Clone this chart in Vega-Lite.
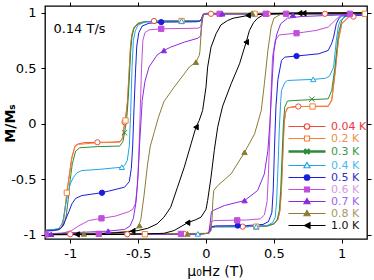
{
  "$schema": "https://vega.github.io/schema/vega-lite/v6.json",
  "width": 322,
  "height": 233,
  "autosize": {"type": "none"},
  "padding": {"left": 45, "top": 6, "right": 7, "bottom": 41},
  "config": {
    "view": {"stroke": "black", "strokeWidth": 1.3},
    "font": "DejaVu Sans",
    "axis": {"labelFont": "DejaVu Sans", "labelFontSize": 13, "labelColor": "black", "tickColor": "black", "tickSize": 4, "tickWidth": 1, "domain": false, "grid": false, "titleFont": "DejaVu Sans", "titleColor": "black"}
  },
  "resolve": {"axis": {"x": "independent", "y": "independent"}},
  "layer": [
    {
      "data": {
        "values": "t,b,h,m\n0.04 K,d,1.19,0.99\n0.04 K,d,0.6,0.99\n0.04 K,d,0.2,0.99\n0.04 K,d,0,0.99\n0.04 K,d,-0.02,0.985\n0.04 K,d,-0.03,0.955\n0.04 K,d,-0.04,0.93\n0.04 K,d,-0.07,0.925\n0.04 K,d,-0.3,0.925\n0.04 K,d,-0.45,0.92\n0.04 K,d,-0.5,0.905\n0.04 K,d,-0.53,0.87\n0.04 K,d,-0.545,0.81\n0.04 K,d,-0.555,0.72\n0.04 K,d,-0.565,0.5\n0.04 K,d,-0.578,0.21\n0.04 K,d,-0.59,0.08\n0.04 K,d,-0.6,0.015\n0.04 K,d,-0.613,-0.12\n0.04 K,d,-0.63,-0.16\n0.04 K,d,-0.7,-0.165\n0.04 K,d,-0.8,-0.166\n0.04 K,d,-0.9,-0.17\n0.04 K,d,-0.94,-0.18\n0.04 K,d,-0.963,-0.195\n0.04 K,d,-0.988,-0.3\n0.04 K,d,-1.013,-0.51\n0.04 K,d,-1.025,-0.62\n0.04 K,d,-1.037,-0.75\n0.04 K,d,-1.05,-0.87\n0.04 K,d,-1.062,-0.93\n0.04 K,d,-1.087,-0.955\n0.04 K,d,-1.19,-0.96\n0.04 K,u,-1.19,-0.995\n0.04 K,u,-0.6,-0.995\n0.04 K,u,-0.05,-0.99\n0.04 K,u,0.02,-0.985\n0.04 K,u,0.03,-0.96\n0.04 K,u,0.04,-0.93\n0.04 K,u,0.07,-0.925\n0.04 K,u,0.3,-0.925\n0.04 K,u,0.45,-0.92\n0.04 K,u,0.5,-0.9\n0.04 K,u,0.53,-0.86\n0.04 K,u,0.545,-0.78\n0.04 K,u,0.555,-0.6\n0.04 K,u,0.565,-0.3\n0.04 K,u,0.575,0\n0.04 K,u,0.585,0.1\n0.04 K,u,0.6,0.144\n0.04 K,u,0.65,0.155\n0.04 K,u,0.9,0.158\n0.04 K,u,0.926,0.21\n0.04 K,u,0.95,0.45\n0.04 K,u,0.975,0.75\n0.04 K,u,1,0.9\n0.04 K,u,1.05,0.96\n0.04 K,u,1.1,0.975\n0.04 K,u,1.19,0.977\n0.2 K,d,1.19,0.99\n0.2 K,d,0,0.99\n0.2 K,d,-0.02,0.985\n0.2 K,d,-0.03,0.955\n0.2 K,d,-0.04,0.93\n0.2 K,d,-0.07,0.925\n0.2 K,d,-0.3,0.925\n0.2 K,d,-0.45,0.92\n0.2 K,d,-0.5,0.905\n0.2 K,d,-0.53,0.87\n0.2 K,d,-0.545,0.8\n0.2 K,d,-0.556,0.7\n0.2 K,d,-0.566,0.47\n0.2 K,d,-0.579,0.18\n0.2 K,d,-0.592,0.05\n0.2 K,d,-0.602,-0.02\n0.2 K,d,-0.615,-0.13\n0.2 K,d,-0.635,-0.165\n0.2 K,d,-0.8,-0.17\n0.2 K,d,-0.94,-0.185\n0.2 K,d,-0.965,-0.2\n0.2 K,d,-0.99,-0.32\n0.2 K,d,-1.013,-0.52\n0.2 K,d,-1.025,-0.62\n0.2 K,d,-1.038,-0.76\n0.2 K,d,-1.05,-0.87\n0.2 K,d,-1.065,-0.93\n0.2 K,d,-1.09,-0.952\n0.2 K,d,-1.19,-0.958\n0.2 K,u,-1.19,-0.995\n0.2 K,u,-0.05,-0.99\n0.2 K,u,0.02,-0.985\n0.2 K,u,0.03,-0.96\n0.2 K,u,0.04,-0.93\n0.2 K,u,0.07,-0.925\n0.2 K,u,0.3,-0.925\n0.2 K,u,0.45,-0.92\n0.2 K,u,0.5,-0.9\n0.2 K,u,0.53,-0.86\n0.2 K,u,0.547,-0.76\n0.2 K,u,0.557,-0.55\n0.2 K,u,0.567,-0.25\n0.2 K,u,0.577,0.02\n0.2 K,u,0.588,0.11\n0.2 K,u,0.605,0.145\n0.2 K,u,0.7,0.156\n0.2 K,u,0.9,0.158\n0.2 K,u,0.927,0.22\n0.2 K,u,0.952,0.47\n0.2 K,u,0.976,0.76\n0.2 K,u,1,0.9\n0.2 K,u,1.05,0.96\n0.2 K,u,1.1,0.975\n0.2 K,u,1.19,0.977\n0.3 K,d,1.19,0.99\n0.3 K,d,0,0.99\n0.3 K,d,-0.02,0.985\n0.3 K,d,-0.03,0.955\n0.3 K,d,-0.04,0.93\n0.3 K,d,-0.07,0.925\n0.3 K,d,-0.3,0.925\n0.3 K,d,-0.45,0.918\n0.3 K,d,-0.5,0.9\n0.3 K,d,-0.53,0.86\n0.3 K,d,-0.545,0.79\n0.3 K,d,-0.555,0.65\n0.3 K,d,-0.567,0.35\n0.3 K,d,-0.58,0.1\n0.3 K,d,-0.592,-0.02\n0.3 K,d,-0.6,-0.08\n0.3 K,d,-0.612,-0.16\n0.3 K,d,-0.635,-0.2\n0.3 K,d,-0.8,-0.205\n0.3 K,d,-0.93,-0.215\n0.3 K,d,-0.96,-0.245\n0.3 K,d,-0.985,-0.36\n0.3 K,d,-1,-0.5\n0.3 K,d,-1.015,-0.68\n0.3 K,d,-1.03,-0.83\n0.3 K,d,-1.048,-0.91\n0.3 K,d,-1.075,-0.945\n0.3 K,d,-1.19,-0.958\n0.3 K,u,-1.19,-0.995\n0.3 K,u,-0.05,-0.99\n0.3 K,u,0.02,-0.985\n0.3 K,u,0.03,-0.96\n0.3 K,u,0.04,-0.93\n0.3 K,u,0.07,-0.925\n0.3 K,u,0.3,-0.925\n0.3 K,u,0.45,-0.918\n0.3 K,u,0.5,-0.9\n0.3 K,u,0.525,-0.86\n0.3 K,u,0.54,-0.78\n0.3 K,u,0.55,-0.6\n0.3 K,u,0.56,-0.3\n0.3 K,u,0.57,0\n0.3 K,u,0.58,0.15\n0.3 K,u,0.6,0.205\n0.3 K,u,0.65,0.21\n0.3 K,u,0.9,0.225\n0.3 K,u,0.926,0.3\n0.3 K,u,0.95,0.51\n0.3 K,u,0.975,0.81\n0.3 K,u,1,0.93\n0.3 K,u,1.02,0.965\n0.3 K,u,1.1,0.975\n0.3 K,u,1.19,0.977\n0.4 K,d,1.19,0.99\n0.4 K,d,0,0.99\n0.4 K,d,-0.02,0.985\n0.4 K,d,-0.03,0.955\n0.4 K,d,-0.04,0.93\n0.4 K,d,-0.07,0.925\n0.4 K,d,-0.3,0.925\n0.4 K,d,-0.45,0.915\n0.4 K,d,-0.5,0.89\n0.4 K,d,-0.52,0.84\n0.4 K,d,-0.535,0.75\n0.4 K,d,-0.545,0.5\n0.4 K,d,-0.555,0.1\n0.4 K,d,-0.565,-0.2\n0.4 K,d,-0.58,-0.33\n0.4 K,d,-0.6,-0.375\n0.4 K,d,-0.62,-0.39\n0.4 K,d,-0.79,-0.41\n0.4 K,d,-0.914,-0.42\n0.4 K,d,-0.95,-0.44\n0.4 K,d,-0.976,-0.48\n0.4 K,d,-1,-0.54\n0.4 K,d,-1.02,-0.64\n0.4 K,d,-1.037,-0.75\n0.4 K,d,-1.05,-0.85\n0.4 K,d,-1.062,-0.9\n0.4 K,d,-1.087,-0.945\n0.4 K,d,-1.19,-0.96\n0.4 K,u,-1.19,-0.995\n0.4 K,u,-0.05,-0.99\n0.4 K,u,0.02,-0.985\n0.4 K,u,0.03,-0.96\n0.4 K,u,0.04,-0.93\n0.4 K,u,0.07,-0.925\n0.4 K,u,0.3,-0.925\n0.4 K,u,0.45,-0.915\n0.4 K,u,0.49,-0.89\n0.4 K,u,0.51,-0.84\n0.4 K,u,0.52,-0.7\n0.4 K,u,0.53,-0.4\n0.4 K,u,0.54,-0.05\n0.4 K,u,0.55,0.2\n0.4 K,u,0.556,0.3\n0.4 K,u,0.58,0.37\n0.4 K,u,0.6,0.39\n0.4 K,u,0.79,0.4\n0.4 K,u,0.88,0.41\n0.4 K,u,0.91,0.43\n0.4 K,u,0.94,0.51\n0.4 K,u,0.96,0.75\n0.4 K,u,0.975,0.88\n0.4 K,u,0.99,0.93\n0.4 K,u,1.03,0.965\n0.4 K,u,1.1,0.975\n0.4 K,u,1.19,0.977\n0.5 K,d,1.19,0.99\n0.5 K,d,0,0.99\n0.5 K,d,-0.02,0.985\n0.5 K,d,-0.03,0.955\n0.5 K,d,-0.04,0.925\n0.5 K,d,-0.07,0.918\n0.5 K,d,-0.3,0.915\n0.5 K,d,-0.42,0.905\n0.5 K,d,-0.47,0.88\n0.5 K,d,-0.495,0.82\n0.5 K,d,-0.51,0.7\n0.5 K,d,-0.52,0.45\n0.5 K,d,-0.53,0.15\n0.5 K,d,-0.54,-0.2\n0.5 K,d,-0.55,-0.4\n0.5 K,d,-0.565,-0.52\n0.5 K,d,-0.6,-0.57\n0.5 K,d,-0.7,-0.6\n0.5 K,d,-0.77,-0.62\n0.5 K,d,-0.914,-0.645\n0.5 K,d,-0.96,-0.67\n0.5 K,d,-0.988,-0.72\n0.5 K,d,-1.01,-0.79\n0.5 K,d,-1.037,-0.87\n0.5 K,d,-1.055,-0.92\n0.5 K,d,-1.074,-0.946\n0.5 K,d,-1.12,-0.96\n0.5 K,d,-1.19,-0.965\n0.5 K,u,-1.19,-0.995\n0.5 K,u,-0.05,-0.99\n0.5 K,u,0.02,-0.985\n0.5 K,u,0.03,-0.96\n0.5 K,u,0.04,-0.925\n0.5 K,u,0.07,-0.918\n0.5 K,u,0.3,-0.915\n0.5 K,u,0.42,-0.905\n0.5 K,u,0.46,-0.88\n0.5 K,u,0.485,-0.8\n0.5 K,u,0.495,-0.6\n0.5 K,u,0.505,-0.2\n0.5 K,u,0.515,0.15\n0.5 K,u,0.53,0.4\n0.5 K,u,0.556,0.57\n0.5 K,u,0.58,0.6\n0.5 K,u,0.667,0.61\n0.5 K,u,0.83,0.63\n0.5 K,u,0.9,0.66\n0.5 K,u,0.925,0.72\n0.5 K,u,0.94,0.78\n0.5 K,u,0.96,0.9\n0.5 K,u,0.98,0.95\n0.5 K,u,1,0.97\n0.5 K,u,1.1,0.977\n0.5 K,u,1.19,0.98\n0.6 K,d,1.19,0.995\n0.6 K,d,0,0.99\n0.6 K,d,-0.02,0.985\n0.6 K,d,-0.03,0.93\n0.6 K,d,-0.04,0.87\n0.6 K,d,-0.06,0.86\n0.6 K,d,-0.33,0.855\n0.6 K,d,-0.42,0.845\n0.6 K,d,-0.45,0.82\n0.6 K,d,-0.465,0.75\n0.6 K,d,-0.475,0.5\n0.6 K,d,-0.485,0.1\n0.6 K,d,-0.495,-0.3\n0.6 K,d,-0.505,-0.55\n0.6 K,d,-0.52,-0.72\n0.6 K,d,-0.54,-0.77\n0.6 K,d,-0.568,-0.79\n0.6 K,d,-0.667,-0.83\n0.6 K,d,-0.77,-0.85\n0.6 K,d,-0.864,-0.87\n0.6 K,d,-0.94,-0.92\n0.6 K,d,-0.99,-0.96\n0.6 K,d,-1.06,-0.985\n0.6 K,d,-1.19,-0.995\n0.6 K,u,-1.19,-0.995\n0.6 K,u,-0.05,-0.99\n0.6 K,u,0.02,-0.985\n0.6 K,u,0.03,-0.93\n0.6 K,u,0.04,-0.88\n0.6 K,u,0.06,-0.87\n0.6 K,u,0.3,-0.865\n0.6 K,u,0.4,-0.855\n0.6 K,u,0.43,-0.82\n0.6 K,u,0.45,-0.7\n0.6 K,u,0.46,-0.45\n0.6 K,u,0.47,-0.1\n0.6 K,u,0.48,0.3\n0.6 K,u,0.49,0.6\n0.6 K,u,0.51,0.75\n0.6 K,u,0.54,0.8\n0.6 K,u,0.667,0.815\n0.6 K,u,0.81,0.84\n0.6 K,u,0.9,0.87\n0.6 K,u,0.95,0.93\n0.6 K,u,0.99,0.975\n0.6 K,u,1.06,0.99\n0.6 K,u,1.19,0.995\n0.7 K,d,1.19,0.995\n0.7 K,d,0,0.99\n0.7 K,d,-0.02,0.985\n0.7 K,d,-0.03,0.9\n0.7 K,d,-0.04,0.79\n0.7 K,d,-0.06,0.77\n0.7 K,d,-0.16,0.735\n0.7 K,d,-0.26,0.69\n0.7 K,d,-0.31,0.66\n0.7 K,d,-0.36,0.62\n0.7 K,d,-0.42,0.51\n0.7 K,d,-0.45,0.38\n0.7 K,d,-0.47,0.21\n0.7 K,d,-0.48,0\n0.7 K,d,-0.49,-0.2\n0.7 K,d,-0.5,-0.45\n0.7 K,d,-0.515,-0.7\n0.7 K,d,-0.535,-0.85\n0.7 K,d,-0.56,-0.92\n0.7 K,d,-0.6,-0.95\n0.7 K,d,-0.72,-0.965\n0.7 K,d,-0.9,-0.975\n0.7 K,d,-1.19,-0.99\n0.7 K,u,-1.19,-0.995\n0.7 K,u,-0.6,-0.99\n0.7 K,u,-0.05,-0.99\n0.7 K,u,0.02,-0.985\n0.7 K,u,0.03,-0.9\n0.7 K,u,0.04,-0.79\n0.7 K,u,0.06,-0.775\n0.7 K,u,0.136,-0.735\n0.7 K,u,0.284,-0.69\n0.7 K,u,0.38,-0.6\n0.7 K,u,0.43,-0.45\n0.7 K,u,0.456,-0.24\n0.7 K,u,0.47,0\n0.7 K,u,0.48,0.21\n0.7 K,u,0.49,0.45\n0.7 K,u,0.5,0.65\n0.7 K,u,0.52,0.8\n0.7 K,u,0.55,0.9\n0.7 K,u,0.6,0.95\n0.7 K,u,0.7,0.965\n0.7 K,u,0.9,0.975\n0.7 K,u,1.19,0.99\n0.8 K,d,1.19,0.998\n0.8 K,d,0,0.995\n0.8 K,d,-0.013,0.99\n0.8 K,d,-0.03,0.95\n0.8 K,d,-0.037,0.8\n0.8 K,d,-0.045,0.65\n0.8 K,d,-0.05,0.615\n0.8 K,d,-0.074,0.555\n0.8 K,d,-0.124,0.51\n0.8 K,d,-0.16,0.45\n0.8 K,d,-0.235,0.33\n0.8 K,d,-0.31,0.2\n0.8 K,d,-0.35,0.06\n0.8 K,d,-0.38,-0.07\n0.8 K,d,-0.41,-0.2\n0.8 K,d,-0.43,-0.36\n0.8 K,d,-0.456,-0.64\n0.8 K,d,-0.48,-0.86\n0.8 K,d,-0.5,-0.93\n0.8 K,d,-0.55,-0.965\n0.8 K,d,-0.7,-0.98\n0.8 K,d,-1.19,-0.995\n0.8 K,u,-1.19,-0.995\n0.8 K,u,-0.6,-0.99\n0.8 K,u,0.02,-0.985\n0.8 K,u,0.037,-0.96\n0.8 K,u,0.045,-0.85\n0.8 K,u,0.05,-0.7\n0.8 K,u,0.057,-0.6\n0.8 K,u,0.086,-0.556\n0.8 K,u,0.185,-0.45\n0.8 K,u,0.284,-0.256\n0.8 K,u,0.358,-0.09\n0.8 K,u,0.407,0.12\n0.8 K,u,0.43,0.36\n0.8 K,u,0.456,0.66\n0.8 K,u,0.48,0.87\n0.8 K,u,0.5,0.95\n0.8 K,u,0.55,0.985\n0.8 K,u,1.19,0.995\n1.0 K,d,1.19,0.998\n1.0 K,d,0.6,0.995\n1.0 K,d,0.45,0.99\n1.0 K,d,0.31,0.975\n1.0 K,d,0.2,0.95\n1.0 K,d,0.16,0.93\n1.0 K,d,0.11,0.89\n1.0 K,d,0.074,0.81\n1.0 K,d,0.037,0.69\n1.0 K,d,0.012,0.51\n1.0 K,d,0,0.33\n1.0 K,d,-0.025,0.12\n1.0 K,d,-0.05,0.03\n1.0 K,d,-0.074,-0.03\n1.0 K,d,-0.11,-0.18\n1.0 K,d,-0.16,-0.39\n1.0 K,d,-0.21,-0.57\n1.0 K,d,-0.26,-0.75\n1.0 K,d,-0.31,-0.84\n1.0 K,d,-0.36,-0.9\n1.0 K,d,-0.43,-0.94\n1.0 K,d,-0.5,-0.96\n1.0 K,d,-0.6,-0.975\n1.0 K,d,-0.8,-0.99\n1.0 K,d,-1.19,-0.995\n1.0 K,u,-1.19,-0.998\n1.0 K,u,-0.6,-0.995\n1.0 K,u,-0.45,-0.99\n1.0 K,u,-0.31,-0.985\n1.0 K,u,-0.235,-0.96\n1.0 K,u,-0.136,-0.89\n1.0 K,u,-0.08,-0.865\n1.0 K,u,-0.037,-0.84\n1.0 K,u,0,-0.77\n1.0 K,u,0.012,-0.69\n1.0 K,u,0.037,-0.48\n1.0 K,u,0.061,-0.24\n1.0 K,u,0.086,-0.03\n1.0 K,u,0.105,0.07\n1.0 K,u,0.123,0.16\n1.0 K,u,0.185,0.36\n1.0 K,u,0.247,0.54\n1.0 K,u,0.296,0.735\n1.0 K,u,0.32,0.84\n1.0 K,u,0.35,0.91\n1.0 K,u,0.38,0.95\n1.0 K,u,0.43,0.985\n1.0 K,u,0.6,0.995\n1.0 K,u,1.19,0.998",
        "format": {"type": "csv", "parse": {"h": "number", "m": "number"}}
      },
      "mark": {"type": "line", "strokeWidth": 1, "clip": true},
      "encoding": {
        "x": {"field": "h", "type": "quantitative", "scale": {"domain": [-1.186, 1.186], "nice": false, "zero": false},
          "axis": {"orient": "bottom", "values": [-1, -0.5, 0, 0.5, 1], "labelExpr": "'' + datum.value", "labelPadding": 4, "title": "μ₀Hz (T)", "titleFontSize": 14, "titleFontWeight": "normal", "titleX": 170, "titleY": 36, "titleBaseline": "alphabetic"}},
        "y": {"field": "m", "type": "quantitative", "scale": {"domain": [-1.036, 1.06], "nice": false, "zero": false},
          "axis": {"orient": "left", "values": [-1, -0.5, 0, 0.5, 1], "labelExpr": "'' + datum.value", "labelPadding": 5, "title": "M/Mₛ", "titleFontSize": 14, "titleFontWeight": "bold", "titleX": -35, "titleY": 117, "titleBaseline": "middle"}},
        "stroke": {"field": "t", "type": "nominal",
          "scale": {"domain": ["0.04 K", "0.2 K", "0.3 K", "0.4 K", "0.5 K", "0.6 K", "0.7 K", "0.8 K", "1.0 K"],
            "range": ["#f04a3a", "#f58231", "#2e8b3a", "#1fa5e6", "#1c1cdc", "#c24fdc", "#8a2be2", "#8b7d35", "#000000"]},
          "legend": {
            "title": null, "orient": "none", "legendX": 243, "legendY": 115, "padding": 0, "rowPadding": 0,
            "symbolSize": 100, "symbolStrokeWidth": 1.2, "labelFontSize": 11, "labelFont": "DejaVu Sans", "labelOffset": 32,
            "encode": {
              "symbols": {"update": {
                "shape": {"signal": "['M-1,0L2.15,0M3.25,0L6.4,0M2.15,0A0.55,0.55,0,1,0,3.25,0A0.55,0.55,0,1,0,2.15,0Z','M-1,0L2.2,0M3.2,0L6.4,0M2.2,-0.5L3.2,-0.5L3.2,0.5L2.2,0.5Z','M-1,0L6.4,0M2.2,-0.5L3.2,0.5M2.2,0.5L3.2,-0.5','M-1,0L2.35,0M3.05,0L6.4,0M2.7,-0.6L3.3,0.45L2.1,0.45Z','M-1,0L2.15,0M3.25,0L6.4,0M2.15,0A0.55,0.55,0,1,0,3.25,0A0.55,0.55,0,1,0,2.15,0Z','M-1,0L2.2,0M3.2,0L6.4,0M2.2,-0.5L3.2,-0.5L3.2,0.5L2.2,0.5Z','M-1,0L6.4,0M2.7,-0.6L3.3,0.45L2.1,0.45Z','M-1,0L6.4,0M2.7,-0.6L3.3,0.45L2.1,0.45Z','M-1,0L6.4,0M2.2,0L3.3,-0.55L3.3,0.55Z'][indexof(['0.04 K','0.2 K','0.3 K','0.4 K','0.5 K','0.6 K','0.7 K','0.8 K','1.0 K'], datum.value)]"},
                "fill": {"signal": "['white','white','#2e8b3a','white','#1c1cdc','#c24fdc','#8a2be2','#8b7d35','#000000'][indexof(['0.04 K','0.2 K','0.3 K','0.4 K','0.5 K','0.6 K','0.7 K','0.8 K','1.0 K'], datum.value)]"},
                "strokeWidth": {"signal": "datum.value == '0.3 K' ? 2.4 : 1.2"},
                "opacity": {"value": 1}
              }},
              "labels": {"update": {
                "fill": {"signal": "['#e8383a','#f0904a','#3a9a48','#4ab8ee','#3030c8','#d89ae8','#9a66ee','#a89868','#111111'][indexof(['0.04 K','0.2 K','0.3 K','0.4 K','0.5 K','0.6 K','0.7 K','0.8 K','1.0 K'], datum.value)]"}
              }}
            }
          }},
        "detail": {"field": "b", "type": "nominal"},
        "order": {"field": "h", "type": "quantitative"}
      }
    },
    {
      "data": {
        "values": "t,h,m\n0.04 K,0.037,0.99\n0.04 K,0.456,0.99\n0.04 K,0.876,0.99\n0.04 K,-0.383,0.925\n0.04 K,-0.6,0.015\n0.04 K,-0.8,-0.166\n0.04 K,-1,-0.993\n0.04 K,-0.58,-0.993\n0.04 K,-0.16,-0.99\n0.04 K,0.27,-0.925\n0.04 K,0.68,0.156\n0.04 K,1.086,0.965\n0.2 K,0.358,0.99\n0.2 K,1.17,0.99\n0.2 K,-0.18,0.925\n0.2 K,-0.593,0.03\n0.2 K,-1.025,-0.62\n0.2 K,-0.45,-0.993\n0.2 K,0.37,-0.925\n0.2 K,0.785,0.156\n0.3 K,-0.6,-0.08\n0.3 K,0.78,0.222\n0.4 K,0.34,0.99\n0.4 K,-0.18,0.925\n0.4 K,-0.62,-0.39\n0.4 K,-0.06,-0.99\n0.4 K,0.37,-0.925\n0.4 K,0.79,0.4\n0.5 K,-0.33,0.915\n0.5 K,-0.766,-0.62\n0.5 K,0.234,-0.915\n0.5 K,0.667,0.61\n0.6 K,0.1,0.99\n0.6 K,0.44,0.99\n0.6 K,0.59,0.99\n0.6 K,1.06,0.99\n0.6 K,-0.33,0.855\n0.6 K,-0.77,-0.85\n0.6 K,-1.18,-0.995\n0.6 K,-0.79,-0.99\n0.6 K,-0.185,-0.99\n0.6 K,0.23,-0.868\n0.6 K,0.667,0.815\n0.7 K,0.12,0.99\n0.7 K,0.64,0.98\n0.7 K,-0.31,0.66\n0.7 K,-0.72,-0.965\n0.7 K,-1.14,-0.993\n0.7 K,0.284,-0.69\n0.8 K,0.34,0.995\n0.8 K,-0.074,0.555\n0.8 K,-0.49,-0.915\n0.8 K,-0.9,-0.99\n0.8 K,-0.136,-0.99\n0.8 K,0.284,-0.256\n1.0 K,0.72,0.995\n1.0 K,0.31,0.975\n1.0 K,-0.074,-0.03\n1.0 K,-0.54,-0.965\n1.0 K,-0.95,-0.995\n1.0 K,-0.136,-0.89\n1.0 K,0.296,0.735\n1.0 K,0.69,0.995",
        "format": {"type": "csv", "parse": {"h": "number", "m": "number"}}
      },
      "mark": {"type": "point", "size": 28, "strokeWidth": 1, "opacity": 1, "clip": true},
      "encoding": {
        "x": {"field": "h", "type": "quantitative", "axis": {"orient": "top", "values": [-1, -0.5, 0, 0.5, 1], "labels": false, "title": null}},
        "y": {"field": "m", "type": "quantitative", "axis": {"orient": "right", "values": [-1, -0.5, 0, 0.5, 1], "labels": false, "title": null}},
        "stroke": {"field": "t", "type": "nominal"},
        "fill": {"field": "t", "type": "nominal", "legend": null,
          "scale": {"domain": ["1.0 K", "0.8 K", "0.7 K", "0.6 K", "0.5 K", "0.4 K", "0.3 K", "0.2 K", "0.04 K"],
            "range": ["#000000", "#8b7d35", "#8a2be2", "#c24fdc", "#1c1cdc", "white", "#2e8b3a", "white", "white"]}},
        "shape": {"field": "t", "type": "nominal", "legend": null,
          "scale": {"domain": ["1.0 K", "0.8 K", "0.7 K", "0.6 K", "0.5 K", "0.4 K", "0.3 K", "0.2 K", "0.04 K"],
            "range": ["triangle-left", "triangle-up", "triangle-up", "square", "circle", "triangle-up", "M-1,-1L1,1M-1,1L1,-1", "square", "circle"]}}
      }
    },
    {
      "data": {"values": [{"label": "0.14 T/s", "h": -1.124, "m": 0.82}]},
      "mark": {"type": "text", "align": "left", "baseline": "alphabetic", "fontSize": 13, "font": "DejaVu Sans", "color": "black"},
      "encoding": {
        "x": {"field": "h", "type": "quantitative", "axis": null},
        "y": {"field": "m", "type": "quantitative", "axis": null},
        "text": {"field": "label", "type": "nominal"}
      }
    }
  ]
}
